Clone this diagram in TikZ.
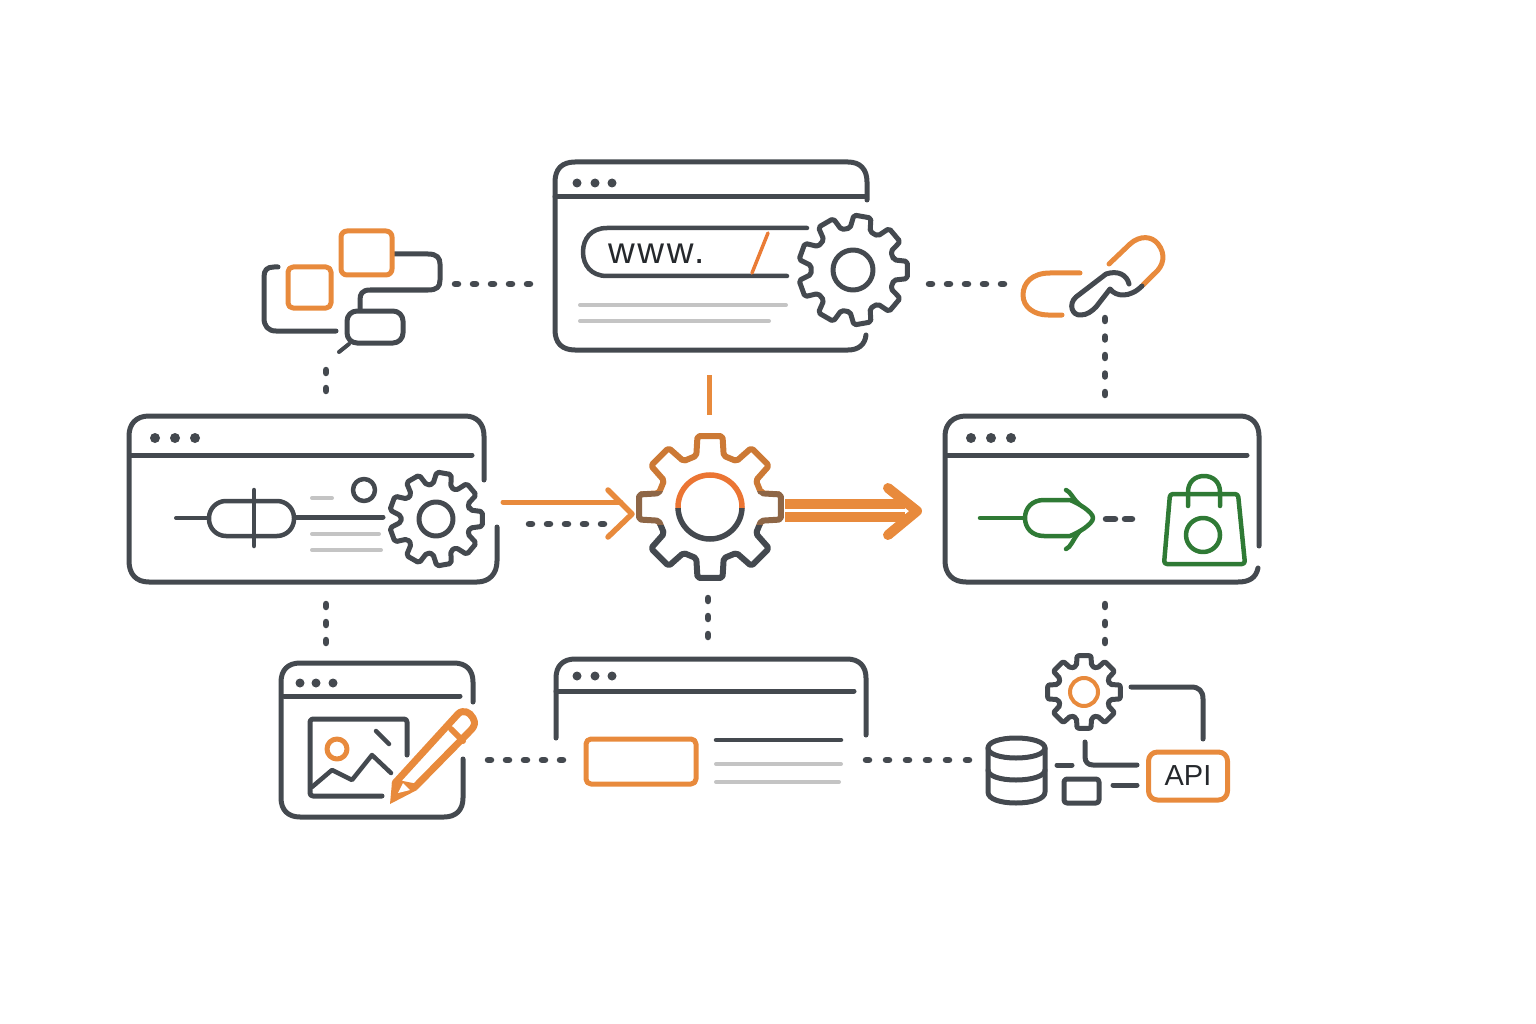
\documentclass[tikz,border=0pt]{standalone}
\usepackage{fontspec}
\setmainfont{Liberation Sans}
\definecolor{ink}{HTML}{44494F}
\definecolor{amber}{HTML}{E88A3C}
\definecolor{leaf}{HTML}{2F7A35}
\definecolor{rulegray}{HTML}{C4C4C4}
\definecolor{textink}{HTML}{25282C}
\tikzset{
  ink line/.style={draw=ink, line width=5pt, line cap=round, line join=round},
  amber line/.style={draw=amber, line width=5pt, line cap=round, line join=round},
  leaf line/.style={draw=leaf, line width=4.5pt, line cap=round, line join=round},
  gray line/.style={draw=rulegray, line width=4pt, line cap=round},
  dotlink/.style={draw=ink, line width=6.5pt, line cap=round, dash pattern=on 3pt off #1pt},
  dotlink/.default=15,
  windot/.style={circle, fill=ink, inner sep=0pt, minimum size=9pt}
}
% gear: center, teeth, outer radius, root radius, half tooth angle (tip), half tooth angle (root)
\newcommand{\gearpath}[6]{
  (#1) ++(-#6:#4)
  \foreach \a [evaluate=\a as \t using \a*360/#2] in {0,...,#2} {
    \ifnum\a<#2
      -- ($(#1)+(\t-#6:#4)$) -- ($(#1)+(\t-#5:#3)$) -- ($(#1)+(\t+#5:#3)$) -- ($(#1)+(\t+#6:#4)$)
    \fi
  } -- cycle
}
\usetikzlibrary{calc}
\begin{document}
\begin{tikzpicture}[x=1pt,y=-1pt]
  \useasboundingbox (0,0) rectangle (1536,1024);

  % Link ends
  \coordinate (flowE) at (455,284);  \coordinate (urlW) at (530,284);
  \coordinate (urlE) at (929,284);   \coordinate (linkW) at (1004,284);
  \coordinate (linkS) at (1105,318); \coordinate (shopN) at (1105,395);
  \coordinate (flowS) at (326,370);  \coordinate (paneN) at (326,394);
  \coordinate (paneS) at (326,604);  \coordinate (editN) at (326,646);
  \coordinate (paneD) at (529,524);  \coordinate (hubD) at (604,524);
  \coordinate (urlS) at (709,375);   \coordinate (hubN) at (709,415);
  \coordinate (hubS) at (708,598);   \coordinate (formN) at (708,637);
  \coordinate (shopS) at (1105,604); \coordinate (apiN) at (1105,646);
  \coordinate (editE) at (488,760);  \coordinate (formW) at (563,760);
  \coordinate (formE) at (866,760);  \coordinate (dbW) at (970,760);
  \coordinate (hub) at (710,507);
  \coordinate (urlgear) at (853,270);
  \coordinate (panegear) at (436,519);
  \coordinate (apigear) at (1084,692);

  % Top window
  \draw[ink line] (867,200) -- (867,182) .. controls (867,169) and (860,162) .. (848,162) -- (575,162)
    .. controls (562,162) and (555,169) .. (555,182) -- (555,330)
    .. controls (555,343) and (562,350) .. (575,350) -- (848,350)
    .. controls (858,350) and (865,345) .. (866,335);
  \draw[ink line] (555,197) -- (866,197);
  \foreach \x in {577,595,612} \node[windot] (urldot\x) at (\x,183) {};
  \draw[draw=ink, line width=4.5pt, line cap=round] (807,228) -- (607,228) .. controls (591,228) and (583,239) .. (583,252)
    .. controls (583,265) and (591,276) .. (607,276) -- (787,276);
  \node[inner sep=0pt, font=\fontsize{37}{37}\selectfont\addfontfeatures{LetterSpace=7}, text=textink, anchor=base west] (wwwtext) at (608,264) {www.};
  \draw[draw=amber!90!red, line width=3.5pt, line cap=round] (768,233) -- (752,273);
  \draw[gray line] (580,305) -- (786,305);
  \draw[gray line] (580,321) -- (769,321);
  \draw[ink line, fill=white, rounded corners=2pt] \gearpath{urlgear}{9}{55}{42}{9}{14};
  \draw[ink line] (urlgear) circle (20);

  % Left window
  \draw[ink line] (484,480) -- (484,436) .. controls (484,424) and (477,416) .. (465,416) -- (149,416)
    .. controls (136,416) and (129,424) .. (129,436) -- (129,561)
    .. controls (129,574) and (136,582) .. (149,582) -- (477,582)
    .. controls (489,582) and (497,574) .. (497,561) -- (497,527);
  \draw[ink line] (131,455) -- (472,455);
  \foreach \x in {155,175,195} \node[windot, minimum size=10pt] (panedot\x) at (\x,438) {};
  \draw[ink line, line width=4pt] (176,518) -- (208,518);
  \draw[ink line, line width=4.5pt, rounded corners=17pt] (209,501) rectangle (294,536);
  \draw[ink line, line width=4.5pt] (254,490) -- (254,546);
  \draw[ink line] (295,517) -- (383,517);
  \draw[ink line, line width=4.5pt] (364,490) circle (11);
  \draw[gray line] (312,498) -- (332,498);
  \draw[gray line] (312,534) -- (379,534);
  \draw[gray line] (312,550) -- (381,550);
  \draw[ink line, fill=white, rounded corners=2pt] \gearpath{panegear}{9}{47}{35}{9}{15};
  \draw[ink line] (panegear) circle (17);

  % Flow icon
  \draw[ink line] (394,254) -- (428,254) .. controls (437,254) and (440,258) .. (440,264) -- (440,280)
    .. controls (440,287) and (437,290) .. (428,290) -- (370,290) .. controls (362,290) and (360,294) .. (360,300) -- (360,310);
  \draw[ink line] (278,267) -- (274,267) .. controls (267,267) and (264,270) .. (264,277) -- (264,318)
    .. controls (264,326) and (268,331) .. (276,331) -- (336,331);
  \draw[amber line, rounded corners=6pt] (341,231) rectangle (392,275);
  \draw[amber line, rounded corners=5pt] (288,267) rectangle (331,308);
  \draw[ink line, rounded corners=10pt] (347,311) rectangle (403,343);
  \draw[ink line, line width=4pt] (349,344) -- (339,352);

  % Link icon
  \draw[amber line] (1080,273) -- (1050,273) .. controls (1032,273) and (1023,283) .. (1023,295)
    .. controls (1023,307) and (1034,315) .. (1048,315) -- (1062,315);
  \draw[amber line] (1109,264) -- (1130,244) .. controls (1140,235) and (1152,236) .. (1158,244)
    .. controls (1166,254) and (1164,266) .. (1154,274) -- (1143,285);
  \draw[ink line] (1129,284) .. controls (1127,275) and (1118,270) .. (1106,274) -- (1076,297)
    .. controls (1068,304) and (1072,316) .. (1081,315) .. controls (1087,315) and (1092,311) .. (1096,307) -- (1110,289)
    .. controls (1116,297) and (1130,298) .. (1142,286);

  % Hub gear
  \begin{scope}
    \clip (600,400) rectangle (800,491);
    \draw[draw=amber!88!black, line width=6pt, line join=round, fill=white, rounded corners=2pt] \gearpath{hub}{8}{72}{53}{10}{15};
  \end{scope}
  \begin{scope}
    \clip (600,491) rectangle (800,525);
    \draw[draw=amber!45!ink, line width=6pt, line join=round, fill=white, rounded corners=2pt] \gearpath{hub}{8}{72}{53}{10}{15};
  \end{scope}
  \begin{scope}
    \clip (600,525) rectangle (800,600);
    \draw[draw=ink, line width=6pt, line join=round, fill=white, rounded corners=2pt] \gearpath{hub}{8}{72}{53}{10}{15};
  \end{scope}
  \begin{scope}
    \clip (600,400) rectangle (800,508);
    \draw[draw=amber!85!red, line width=5.5pt] (hub) circle (32);
  \end{scope}
  \begin{scope}
    \clip (600,508) rectangle (800,600);
    \draw[draw=ink, line width=5.5pt] (hub) circle (32);
  \end{scope}

  % Right window
  \draw[ink line] (1259,546) -- (1259,436) .. controls (1259,424) and (1252,416) .. (1240,416) -- (966,416)
    .. controls (953,416) and (945,424) .. (945,436) -- (945,561)
    .. controls (945,574) and (953,582) .. (966,582) -- (1238,582) .. controls (1249,582) and (1256,578) .. (1258,568);
  \draw[ink line] (947,455) -- (1247,455);
  \foreach \x in {971,991,1011} \node[windot, minimum size=10pt] (shopdot\x) at (\x,438) {};
  \draw[leaf line] (980,518) -- (1024,518);
  \draw[leaf line] (1044,500) -- (1070,500) .. controls (1078,503) and (1093,512) .. (1093,518)
    .. controls (1093,524) and (1078,533) .. (1070,536) -- (1044,536)
    .. controls (1032,536) and (1025,528) .. (1025,518) .. controls (1025,508) and (1032,500) .. (1044,500) -- cycle;
  \draw[leaf line] (1066,490) .. controls (1071,492) and (1072,498) .. (1079,504);
  \draw[leaf line] (1066,549) .. controls (1071,547) and (1072,541) .. (1079,532);
  \draw[ink line, line width=6.5pt] (1106,519) -- (1115,519);
  \draw[ink line, line width=6.5pt] (1125,519) -- (1132,519);
  \draw[leaf line, rounded corners=3pt] (1170,494) -- (1238,494) -- (1245,564) -- (1164,564) -- cycle;
  \draw[leaf line] (1188,506) -- (1188,492) .. controls (1188,482) and (1195,476) .. (1204,476)
    .. controls (1213,476) and (1220,482) .. (1220,492) -- (1220,506);
  \draw[leaf line] (1203,535) circle (17);

  % Edit window
  \draw[ink line] (473,702) -- (473,682) .. controls (473,670) and (466,663) .. (454,663) -- (300,663)
    .. controls (288,663) and (281,670) .. (281,682) -- (281,798)
    .. controls (281,810) and (288,817) .. (300,817) -- (444,817)
    .. controls (456,817) and (463,810) .. (463,798) -- (463,759);
  \draw[ink line] (284,696) -- (460,696);
  \foreach \x in {300,316,333} \node[windot] (editdot\x) at (\x,683) {};
  \draw[ink line, rounded corners=3pt] (407,755) -- (407,719) -- (310,719) -- (310,796) -- (382,796);
  \draw[ink line, line width=4.5pt] (312,787) -- (332,770) -- (352,780) -- (372,755) -- (391,773);
  \draw[ink line, line width=4.5pt] (376,731) -- (389,744);
  \draw[amber line] (337,749) circle (10);
  \draw[amber line, fill=white, line width=7pt] (395,783) -- (458,714) .. controls (463,709) and (470,712) .. (473,718)
    .. controls (476,723) and (474,727) .. (471,730) -- (415,787) -- cycle;
  \draw[amber line, line width=6pt] (451,729) -- (463,741);
  \fill[amber] (390,804) -- (392,782) -- (398,782) -- (417,790) -- cycle;
  \fill[white] (403,783) -- (398,793) -- (410,790) -- cycle;

  % Form window
  \draw[ink line] (556,738) -- (556,678) .. controls (556,666) and (563,659) .. (575,659) -- (847,659)
    .. controls (859,659) and (866,666) .. (866,678) -- (866,735);
  \draw[ink line] (556,691) -- (854,691);
  \foreach \x in {577,595,612} \node[windot] (formdot\x) at (\x,676) {};
  \draw[amber line, rounded corners=5pt] (586,739) rectangle (696,784);
  \draw[ink line, line width=4.5pt] (716,740) -- (841,740);
  \draw[gray line] (716,764) -- (841,764);
  \draw[gray line] (716,782) -- (839,782);

  % Api icons
  \draw[ink line, fill=white, rounded corners=2pt] \gearpath{apigear}{8}{37}{27}{11}{16};
  \draw[amber line, line width=4pt] (apigear) circle (14);
  \draw[ink line] (1131,687) -- (1191,687) .. controls (1199,687) and (1203,691) .. (1203,699) -- (1203,739);
  \draw[ink line] (1016,738) .. controls (1000,738) and (988,742) .. (988,748) -- (988,792)
    .. controls (988,799) and (1000,803) .. (1016,803) .. controls (1032,803) and (1045,799) .. (1045,792) -- (1045,748)
    .. controls (1045,742) and (1032,738) .. (1016,738);
  \draw[ink line] (988,748) .. controls (988,754) and (1000,758) .. (1016,758) .. controls (1032,758) and (1045,754) .. (1045,748);
  \draw[ink line] (988,770) .. controls (988,776) and (1000,780) .. (1016,780) .. controls (1032,780) and (1045,776) .. (1045,770);
  \draw[ink line] (1057,765) -- (1072,765);
  \draw[ink line] (1085,742) -- (1085,757) .. controls (1085,762) and (1088,765) .. (1093,765) -- (1137,765);
  \draw[ink line, rounded corners=3pt] (1064,779) rectangle (1099,803);
  \draw[ink line] (1113,785) -- (1137,785);
  \node[amber line, draw, rounded corners=9pt, minimum width=79pt, minimum height=48pt, inner sep=0pt,
    font=\fontsize{29}{29}\selectfont, text=textink] (api) at (1188,776) {API};

  % Edges
  \draw[dotlink] (flowE) -- (urlW);
  \draw[dotlink] (urlE) -- (linkW);
  \draw[dotlink=15.5] (linkS) -- (shopN);
  \draw[dotlink] (flowS) -- (paneN);
  \draw[dotlink] (paneS) -- (editN);
  \draw[dotlink] (paneD) -- (hubD);
  \draw[dotlink] (hubS) -- (formN);
  \draw[dotlink] (shopS) -- (apiN);
  \draw[dotlink] (editE) -- (formW);
  \draw[dotlink=17] (formE) -- (dbW);
  \draw[amber line, line width=5pt, line cap=butt] (urlS) -- (hubN);
  \draw[amber line, line width=5pt] (503,502) -- (621,502);
  \draw[amber line, line width=5.5pt] (608,490) -- (632,514) -- (608,537);
  \draw[amber line, line width=10pt, line cap=butt] (785,504) -- (905,504);
  \draw[amber line, line width=10pt, line cap=butt] (785,517) -- (905,517);
  \draw[amber line, line width=10pt] (888,488) -- (917,511) -- (888,535);
\end{tikzpicture}
\end{document}
